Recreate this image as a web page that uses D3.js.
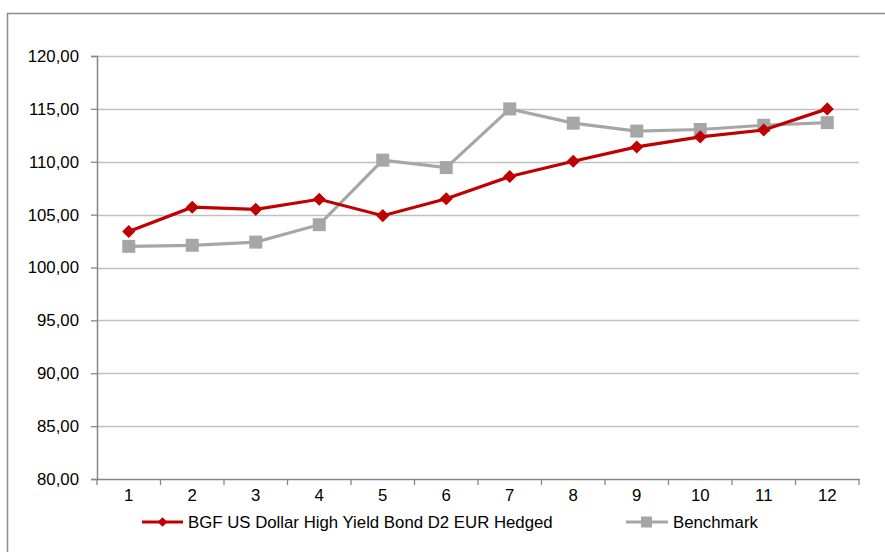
<!DOCTYPE html>
<html>
<head>
<meta charset="utf-8">
<script src="https://cdn.jsdelivr.net/npm/d3@7"></script>
<style>
  body { margin: 0; background: #fff; }
  text { font-family: "Liberation Sans", Arial, sans-serif; fill: #000; }
</style>
</head>
<body>
<div id="content"></div>
<script>
// chart values
var months = ['1', '2', '3', '4', '5', '6', '7', '8', '9', '10', '11', '12'];
var fundValues = [103.4, 105.7, 105.5, 106.45, 104.9, 106.5, 108.6, 110.05, 111.4, 112.35, 113.0, 115.0];
var benchValues = [102.0, 102.1, 102.4, 104.05, 110.15, 109.45, 115.0, 113.65, 112.9, 113.05, 113.45, 113.7];
var yTicks = [80, 85, 90, 95, 100, 105, 110, 115, 120];
var seriesNames = ['BGF US Dollar High Yield Bond D2 EUR Hedged', 'Benchmark'];

var width = 885,
    height = 552;
var fontSize = '16.8px';
var svg = d3.select('#content').append('svg')
  .attr('width', width)
  .attr('height', height);

// outer chart frame
svg.append('rect')
  .attr('x', 7.5).attr('y', 13.5)
  .attr('width', 890).attr('height', 560)
  .attr('fill', 'none')
  .attr('stroke', '#8c8c8c')
  .attr('stroke-width', 1.5);

var plotLeft = 97, plotRight = 859, plotTop = 56, plotBottom = 479;

var x = d3.scaleBand().domain(months).range([plotLeft, plotRight]);
var y = d3.scaleLinear().domain([80, 120]).range([plotBottom, plotTop]);

// gridlines
svg.append('g').selectAll('line')
  .data(yTicks.slice(1))
  .enter().append('line')
  .attr('x1', plotLeft).attr('x2', plotRight)
  .attr('y1', function(d) { return Math.round(y(d)) + 0.5; })
  .attr('y2', function(d) { return Math.round(y(d)) + 0.5; })
  .attr('stroke', '#c0c0c0')
  .attr('stroke-width', 1.3);

// y axis
var yAxis = svg.append('g')
  .attr('transform', 'translate(' + plotLeft + ',0)')
  .call(d3.axisLeft(y).tickValues(yTicks).tickSize(6).tickPadding(12)
    .tickFormat(function(d) { return d3.format('.2f')(d).replace('.', ','); }));
yAxis.select('.domain').attr('stroke', '#868686').attr('stroke-width', 1.5);
yAxis.selectAll('.tick line').attr('stroke', '#868686').attr('stroke-width', 1.3);
yAxis.selectAll('text').style('font-size', fontSize);

// x axis (ticks at band edges)
var xAxis = svg.append('g')
  .attr('transform', 'translate(0,' + plotBottom + ')')
  .call(d3.axisBottom(x).tickSize(0).tickPadding(10));
xAxis.select('.domain').attr('stroke', '#868686').attr('stroke-width', 1.5);
xAxis.selectAll('text').style('font-size', fontSize);
xAxis.selectAll('.edge')
  .data(months.concat(['end']))
  .enter().append('line')
  .attr('class', 'edge')
  .attr('x1', function(d, i) { return plotLeft + i * x.step(); })
  .attr('x2', function(d, i) { return plotLeft + i * x.step(); })
  .attr('y1', 0).attr('y2', 6)
  .attr('stroke', '#868686').attr('stroke-width', 1.3);

var cx = function(d, i) { return x(months[i]) + x.bandwidth() / 2; };
var line = d3.line().x(cx).y(function(d) { return y(d); });

// benchmark series
svg.append('path')
  .datum(benchValues)
  .attr('d', line)
  .attr('fill', 'none')
  .attr('stroke', '#a6a6a6')
  .attr('stroke-width', 3.2);
svg.append('g').selectAll('rect')
  .data(benchValues)
  .enter().append('rect')
  .attr('x', function(d, i) { return cx(d, i) - 6.5; })
  .attr('y', function(d) { return y(d) - 6.5; })
  .attr('width', 13).attr('height', 13)
  .attr('fill', '#a6a6a6');

// fund series
var diamond = d3.symbol().type(d3.symbolDiamond2).size(110);
svg.append('path')
  .datum(fundValues)
  .attr('d', line)
  .attr('fill', 'none')
  .attr('stroke', '#c00000')
  .attr('stroke-width', 3.2);
svg.append('g').selectAll('path')
  .data(fundValues)
  .enter().append('path')
  .attr('d', diamond)
  .attr('transform', function(d, i) { return 'translate(' + cx(d, i) + ',' + y(d) + ')'; })
  .attr('fill', '#c00000');

// legend
var legendY = 522;
var legend = svg.append('g');
legend.append('line')
  .attr('x1', 142).attr('x2', 183).attr('y1', legendY).attr('y2', legendY)
  .attr('stroke', '#c00000').attr('stroke-width', 3.2);
legend.append('path')
  .attr('d', d3.symbol().type(d3.symbolDiamond2).size(60))
  .attr('transform', 'translate(162.5,' + legendY + ')')
  .attr('fill', '#c00000');
legend.append('text')
  .attr('x', 188).attr('y', legendY + 6)
  .style('font-size', fontSize)
  .text(seriesNames[0]);

legend.append('line')
  .attr('x1', 626).attr('x2', 668).attr('y1', legendY).attr('y2', legendY)
  .attr('stroke', '#a6a6a6').attr('stroke-width', 3.2);
legend.append('rect')
  .attr('x', 641).attr('y', legendY - 5.5)
  .attr('width', 11).attr('height', 11)
  .attr('fill', '#a6a6a6');
legend.append('text')
  .attr('x', 673).attr('y', legendY + 6)
  .style('font-size', fontSize)
  .text(seriesNames[1]);
</script>
</body>
</html>
